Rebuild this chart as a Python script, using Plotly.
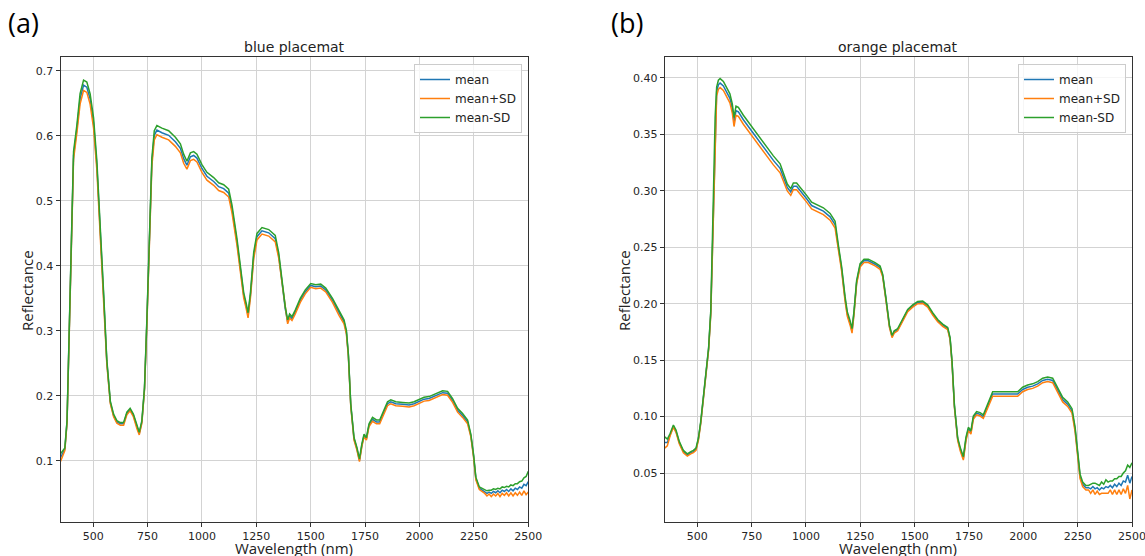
import numpy as np
import plotly.graph_objects as go

# ---------------- blue placemat ----------------
blue_wl = [350, 360, 370, 380, 390, 402, 410, 425, 440, 456, 471, 486, 502, 517, 533, 548, 563, 579, 594, 609,
           625, 640, 655, 670, 685, 701, 712, 724, 736, 747, 758, 770, 781, 793, 816, 847, 878, 901, 916, 931,
           947, 962, 977, 1000, 1023, 1054, 1077, 1100, 1123, 1138, 1161, 1177, 1192, 1203, 1212, 1223, 1238, 1253, 1276, 1307,
           1337, 1353, 1368, 1383, 1394, 1403, 1414, 1429, 1452, 1475, 1500, 1523, 1546, 1569, 1600, 1630, 1653, 1664, 1673, 1684,
           1699, 1712, 1724, 1735, 1745, 1756, 1768, 1784, 1802, 1817, 1833, 1853, 1868, 1891, 1922, 1952, 1975, 1998, 2021, 2044,
           2075, 2106, 2129, 2152, 2175, 2198, 2221, 2236, 2248, 2259, 2275, 2290,
           2300, 2310, 2320, 2330, 2340, 2350, 2360, 2370, 2380, 2390, 2400, 2410, 2420, 2430, 2440, 2450, 2460, 2470, 2480, 2490, 2500]
blue_mean = [0.105, 0.112, 0.118, 0.160, 0.298, 0.493, 0.570, 0.610, 0.657, 0.678, 0.675, 0.657, 0.620, 0.555, 0.457, 0.355, 0.252, 0.190, 0.170, 0.160,
             0.157, 0.157, 0.173, 0.179, 0.170, 0.152, 0.142, 0.160, 0.211, 0.314, 0.442, 0.560, 0.601, 0.609, 0.605, 0.601, 0.591, 0.581, 0.565, 0.555,
             0.568, 0.570, 0.566, 0.550, 0.538, 0.530, 0.522, 0.519, 0.512, 0.488, 0.437, 0.396, 0.355, 0.339, 0.324, 0.355, 0.416, 0.445, 0.454, 0.451,
             0.442, 0.416, 0.375, 0.334, 0.314, 0.323, 0.319, 0.329, 0.347, 0.360, 0.370, 0.368, 0.369, 0.363, 0.347, 0.327, 0.314, 0.298, 0.263, 0.186,
             0.134, 0.119, 0.101, 0.124, 0.139, 0.134, 0.155, 0.164, 0.160, 0.160, 0.173, 0.188, 0.191, 0.188, 0.187, 0.186, 0.188, 0.191, 0.195, 0.196,
             0.201, 0.205, 0.204, 0.193, 0.178, 0.170, 0.160, 0.139, 0.109, 0.073, 0.058, 0.055,
             0.053, 0.050, 0.052, 0.050, 0.053, 0.051, 0.054, 0.051, 0.055, 0.053, 0.056, 0.053, 0.057, 0.054, 0.058, 0.056, 0.060, 0.058, 0.064, 0.062, 0.068]
blue_sd = [0.006, 0.003, 0.002, 0.002, 0.003, 0.005, 0.006, 0.006, 0.008, 0.008, 0.008, 0.008, 0.008, 0.007, 0.006, 0.005, 0.003, 0.002, 0.002, 0.002,
           0.002, 0.002, 0.002, 0.002, 0.002, 0.002, 0.002, 0.002, 0.002, 0.004, 0.005, 0.006, 0.007, 0.007, 0.007, 0.007, 0.007, 0.007, 0.007, 0.006,
           0.006, 0.006, 0.006, 0.006, 0.006, 0.006, 0.006, 0.006, 0.006, 0.006, 0.005, 0.004, 0.004, 0.004, 0.004, 0.004, 0.005, 0.005, 0.005, 0.005,
           0.005, 0.004, 0.003, 0.003, 0.003, 0.003, 0.003, 0.003, 0.003, 0.003, 0.003, 0.003, 0.003, 0.003, 0.003, 0.003, 0.003, 0.003, 0.002, 0.002,
           0.002, 0.002, 0.002, 0.002, 0.002, 0.002, 0.002, 0.003, 0.003, 0.003, 0.003, 0.003, 0.003, 0.003, 0.003, 0.003, 0.003, 0.003, 0.003, 0.003,
           0.003, 0.003, 0.003, 0.003, 0.003, 0.003, 0.003, 0.002, 0.002, 0.002, 0.002, 0.002,
           0.003, 0.004, 0.003, 0.005, 0.004, 0.005, 0.004, 0.006, 0.005, 0.006, 0.005, 0.007, 0.006, 0.008, 0.007, 0.009, 0.008, 0.011, 0.010, 0.014, 0.016]

# ---------------- orange placemat ----------------
orange_wl = [350, 362, 375, 390, 402, 417, 436, 454, 470, 482, 494, 505, 516, 528, 540, 552, 562, 569, 575, 582,
             589, 597, 605, 620, 635, 650, 661, 669, 678, 689, 712, 735, 758, 789, 819, 850, 881, 899, 914, 930,
             942, 957, 980, 1003, 1026, 1049, 1080, 1111, 1134, 1149, 1164, 1180, 1190, 1203, 1212, 1221, 1233, 1249, 1267, 1287,
             1318, 1341, 1353, 1368, 1384, 1396, 1406, 1422, 1445, 1468, 1491, 1514, 1537, 1560, 1583, 1606, 1629, 1652, 1663, 1672,
             1683, 1698, 1710, 1724, 1736, 1747, 1759, 1770, 1785, 1801, 1816, 1836, 1859, 1882, 1913, 1943, 1974, 1997, 2020, 2043,
             2066, 2089, 2112, 2135, 2158, 2181, 2204, 2224, 2238, 2250, 2261, 2273, 2288,
             2300, 2310, 2320, 2330, 2340, 2350, 2360, 2370, 2380, 2390, 2400, 2410, 2420, 2430, 2440, 2450, 2460, 2470, 2480, 2490, 2500]
orange_mean = [0.077, 0.077, 0.084, 0.0915, 0.087, 0.077, 0.069, 0.066, 0.068, 0.069, 0.071, 0.080, 0.095, 0.115, 0.136, 0.160, 0.192, 0.243, 0.302, 0.361,
               0.388, 0.394, 0.3955, 0.393, 0.388, 0.382, 0.373, 0.361, 0.371, 0.370, 0.363, 0.357, 0.350, 0.343, 0.335, 0.327, 0.320, 0.311, 0.303, 0.299,
               0.304, 0.304, 0.299, 0.293, 0.287, 0.285, 0.282, 0.277, 0.270, 0.250, 0.231, 0.204, 0.191, 0.183, 0.176, 0.192, 0.219, 0.234, 0.238, 0.238,
               0.235, 0.232, 0.225, 0.204, 0.180, 0.171, 0.175, 0.177, 0.185, 0.194, 0.198, 0.201, 0.2013, 0.198, 0.191, 0.185, 0.181, 0.178, 0.169, 0.148,
               0.109, 0.080, 0.071, 0.063, 0.080, 0.089, 0.086, 0.099, 0.103, 0.102, 0.100, 0.109, 0.120, 0.120, 0.120, 0.120, 0.120, 0.124, 0.126, 0.127,
               0.129, 0.132, 0.133, 0.132, 0.124, 0.115, 0.111, 0.105, 0.089, 0.065, 0.047, 0.040, 0.037,
               0.037, 0.036, 0.038, 0.036, 0.037, 0.035, 0.037, 0.036, 0.038, 0.037, 0.039, 0.037, 0.040, 0.038, 0.041, 0.039, 0.043, 0.042, 0.048, 0.041, 0.047]
orange_sd = [0.005, 0.003, 0.001, 0.001, 0.001, 0.001, 0.001, 0.001, 0.001, 0.001, 0.001, 0.001, 0.001, 0.001, 0.001, 0.001, 0.002, 0.002, 0.002, 0.004,
             0.004, 0.004, 0.004, 0.004, 0.004, 0.004, 0.004, 0.004, 0.004, 0.004, 0.004, 0.004, 0.004, 0.004, 0.004, 0.004, 0.004, 0.003, 0.003, 0.003,
             0.003, 0.003, 0.003, 0.003, 0.003, 0.003, 0.003, 0.003, 0.003, 0.002, 0.002, 0.002, 0.002, 0.002, 0.002, 0.0015, 0.0015, 0.0015, 0.0015, 0.0015,
             0.0015, 0.0015, 0.001, 0.001, 0.001, 0.001, 0.001, 0.001, 0.001, 0.001, 0.001, 0.001, 0.001, 0.001, 0.001, 0.001, 0.001, 0.001, 0.001, 0.001,
             0.001, 0.001, 0.0015, 0.0015, 0.0015, 0.0015, 0.0015, 0.0015, 0.0015, 0.0015, 0.0015, 0.0015, 0.002, 0.002, 0.002, 0.002, 0.002, 0.002, 0.002, 0.002,
             0.002, 0.002, 0.002, 0.002, 0.002, 0.002, 0.002, 0.002, 0.002, 0.002, 0.002, 0.002, 0.002,
             0.002, 0.004, 0.003, 0.005, 0.003, 0.004, 0.005, 0.004, 0.006, 0.005, 0.004, 0.006, 0.005, 0.007, 0.006, 0.008, 0.007, 0.010, 0.009, 0.014, 0.012]

x_ticks = [500, 750, 1000, 1250, 1500, 1750, 2000, 2250, 2500]
blue_yticks = [0.1, 0.2, 0.3, 0.4, 0.5, 0.6, 0.7]
orange_yticks = [0.05, 0.10, 0.15, 0.20, 0.25, 0.30, 0.35, 0.40]
series_names = ["mean", "mean+SD", "mean-SD"]
series_colors = ["#1f77b4", "#ff7f0e", "#2ca02c"]
panel_titles = ["blue placemat", "orange placemat"]
panel_tags = ["(a)", "(b)"]

W, H = 1145, 556
ML, MR, MT, MB = 60, 13, 57, 34
PW, PH = W - ML - MR, H - MT - MB

fig = go.Figure()

def add_panel(wl, mean, sd, xa, ya, legend):
    mean = np.array(mean)
    sd = np.array(sd)
    vals = [mean, mean - sd, mean + sd]
    for name, color, v in zip(series_names, series_colors, vals):
        fig.add_trace(go.Scatter(x=wl, y=v, mode="lines", name=name,
                                 line=dict(color=color, width=1.5),
                                 xaxis=xa, yaxis=ya, legend=legend))

add_panel(blue_wl, blue_mean, blue_sd, "x", "y", "legend")
add_panel(orange_wl, orange_mean, orange_sd, "x2", "y2", "legend2")

def px_x(p):
    return (p - ML) / PW

def px_y(p):
    return (H - MB - p) / PH

def clamp(v):
    return min(1.0, max(0.0, v))

tick_font = dict(family="DejaVu Sans", size=11, color="#262626")
grid_col = "#d3d3d3"
common_x = dict(range=[350, 2500], tickvals=x_ticks, showgrid=True, gridcolor=grid_col, gridwidth=1,
                showline=True, linecolor="#333333", linewidth=1, mirror=True, ticks="outside",
                ticklen=4, tickcolor="#333333", tickfont=tick_font, zeroline=False, automargin=False,
                ticklabeloverflow="allow")
common_y = dict(showgrid=True, gridcolor=grid_col, gridwidth=1,
                showline=True, linecolor="#333333", linewidth=1, mirror=True, ticks="outside",
                ticklen=4, tickcolor="#333333", tickfont=tick_font, zeroline=False, automargin=False)

L1, R1 = 60.5, 528.3
L2, R2 = 664.7, 1132.0
y_dom = [clamp(px_y(522)), clamp(px_y(57))]

label_font = dict(family="Open Sans", size=15, color="#222222")
title_font = dict(family="DejaVu Sans", size=14, color="#222222")
tag_font = dict(family="Open Sans", size=27, color="#000000")

annotations = []
for (l, r, title, tag, tagx, ylx) in [(L1, R1, panel_titles[0], panel_tags[0], 6, 27),
                                      (L2, R2, panel_titles[1], panel_tags[1], 609, 624)]:
    cx = (l + r) / 2
    annotations += [
        dict(text=title, x=px_x(cx), y=px_y(47), xref="paper", yref="paper",
             xanchor="center", yanchor="middle", showarrow=False, font=title_font),
        dict(text="Wavelength (nm)", x=px_x(cx), y=px_y(548), xref="paper", yref="paper",
             xanchor="center", yanchor="middle", showarrow=False, font=label_font),
        dict(text="Reflectance", x=px_x(ylx), y=px_y(291), xref="paper", yref="paper",
             xanchor="center", yanchor="middle", showarrow=False, textangle=-90, font=label_font),
        dict(text=tag, x=px_x(tagx), y=px_y(22), xref="paper", yref="paper",
             xanchor="left", yanchor="middle", showarrow=False, font=tag_font),
    ]

legend_style = dict(xanchor="right", yanchor="top", bgcolor="rgba(255,255,255,0.8)",
                    bordercolor="#cccccc", borderwidth=1,
                    font=dict(family="DejaVu Sans", size=12, color="#222222"), tracegroupgap=0)

fig.update_layout(
    width=W, height=H,
    margin=dict(l=ML, r=MR, t=MT, b=MB, autoexpand=False),
    paper_bgcolor="white", plot_bgcolor="white",
    showlegend=True,
    xaxis=dict(domain=[clamp(px_x(L1)), clamp(px_x(R1))], anchor="y", **common_x),
    yaxis=dict(domain=y_dom, anchor="x", range=[0.006, 0.7215], tickvals=blue_yticks,
               tickformat=".1f", **common_y),
    xaxis2=dict(domain=[clamp(px_x(L2)), clamp(px_x(R2))], anchor="y2", **common_x),
    yaxis2=dict(domain=y_dom, anchor="x2", range=[0.0066, 0.4186], tickvals=orange_yticks,
                tickformat=".2f", **common_y),
    legend=dict(x=px_x(522), y=px_y(64), **legend_style),
    legend2=dict(x=px_x(1126), y=px_y(64), **legend_style),
    annotations=annotations,
)

fig.write_html("out.html", config={"displayModeBar": False},
               post_script="document.body.style.margin='0';document.body.style.padding='0';document.body.style.overflow='hidden';")
